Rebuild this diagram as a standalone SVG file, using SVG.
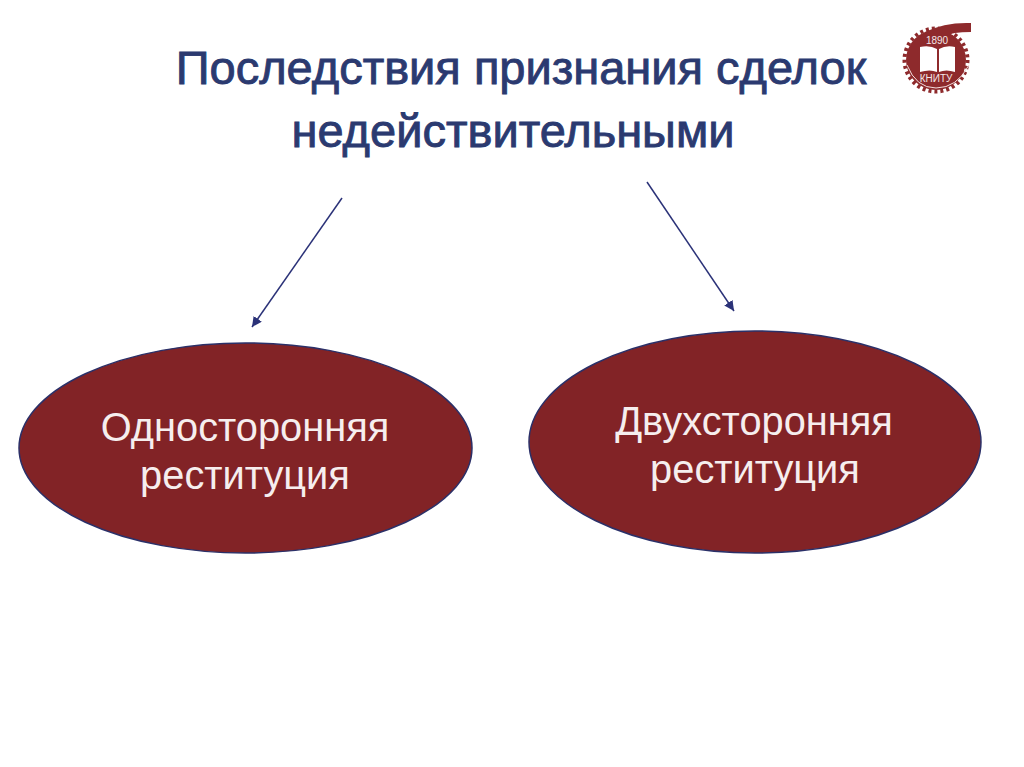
<svg xmlns="http://www.w3.org/2000/svg" width="1024" height="767" viewBox="0 0 1024 767">
<style>
.t{font-family:"Liberation Sans",Arial,sans-serif;text-anchor:middle}
.h{font-size:47px;fill:#2b3a70;stroke:#2b3a70;stroke-width:.9}
.n{font-size:39.800px;fill:#f6eeee}
.e{fill:#822326;stroke:#2b3068;stroke-width:1.5}
.c{stroke:#2b3278;stroke-width:1.5;fill:none;marker-end:url(#a)}
.l{font-family:"Liberation Sans",Arial,sans-serif;font-size:10px;fill:#f3e6e6;text-anchor:middle}
</style>
<defs>
<marker id="a" markerUnits="userSpaceOnUse" markerWidth="12" markerHeight="12" refX="10" refY="5" orient="auto"><path d="M0 0L10 5L0 10Z" fill="#2b3278"/></marker>
</defs>
<rect width="1024" height="767" fill="#fff"/>
<g id="title">
<text class="t h" x="521" y="84">Последствия признания сделок</text>
<text class="t h" x="513" y="147">недействительными</text>
</g>
<g id="logo">
<circle cx="936" cy="60" r="31.500" fill="none" stroke="#8e2a2c" stroke-width="4" stroke-dasharray="3 3"/>
<circle cx="936" cy="60" r="30" fill="#8e2a2c"/>
<path d="M925 32Q945 22 971 23V32Q952 32 945 36Z" fill="#8e2a2c"/>
<path d="M920 47Q930 45 937 49V72Q930 69 920 72ZM939 49Q946 45 955 47V72Q946 69 939 72Z" fill="#fff"/>
<path d="M907 65Q916 88 936 88Q957 88 969 65" fill="none" stroke="#f3dede" stroke-width="1"/>
<text class="l" x="937" y="44">1890</text>
<text class="l" x="936" y="82">КНИТУ</text>
</g>
<g id="connectors">
<line class="c" x1="342" y1="198" x2="252" y2="327"/>
<line class="c" x1="647" y1="182" x2="734" y2="311"/>
</g>
<g id="node-left">
<ellipse class="e" cx="245.500" cy="448" rx="226.500" ry="105"/>
<text class="t n" x="245" y="441">Односторонняя</text>
<text class="t n" x="245" y="489">реституция</text>
</g>
<g id="node-right">
<ellipse class="e" cx="755" cy="442" rx="226" ry="111"/>
<text class="t n" x="754" y="435">Двухсторонняя</text>
<text class="t n" x="755" y="483">реституция</text>
</g>
</svg>
